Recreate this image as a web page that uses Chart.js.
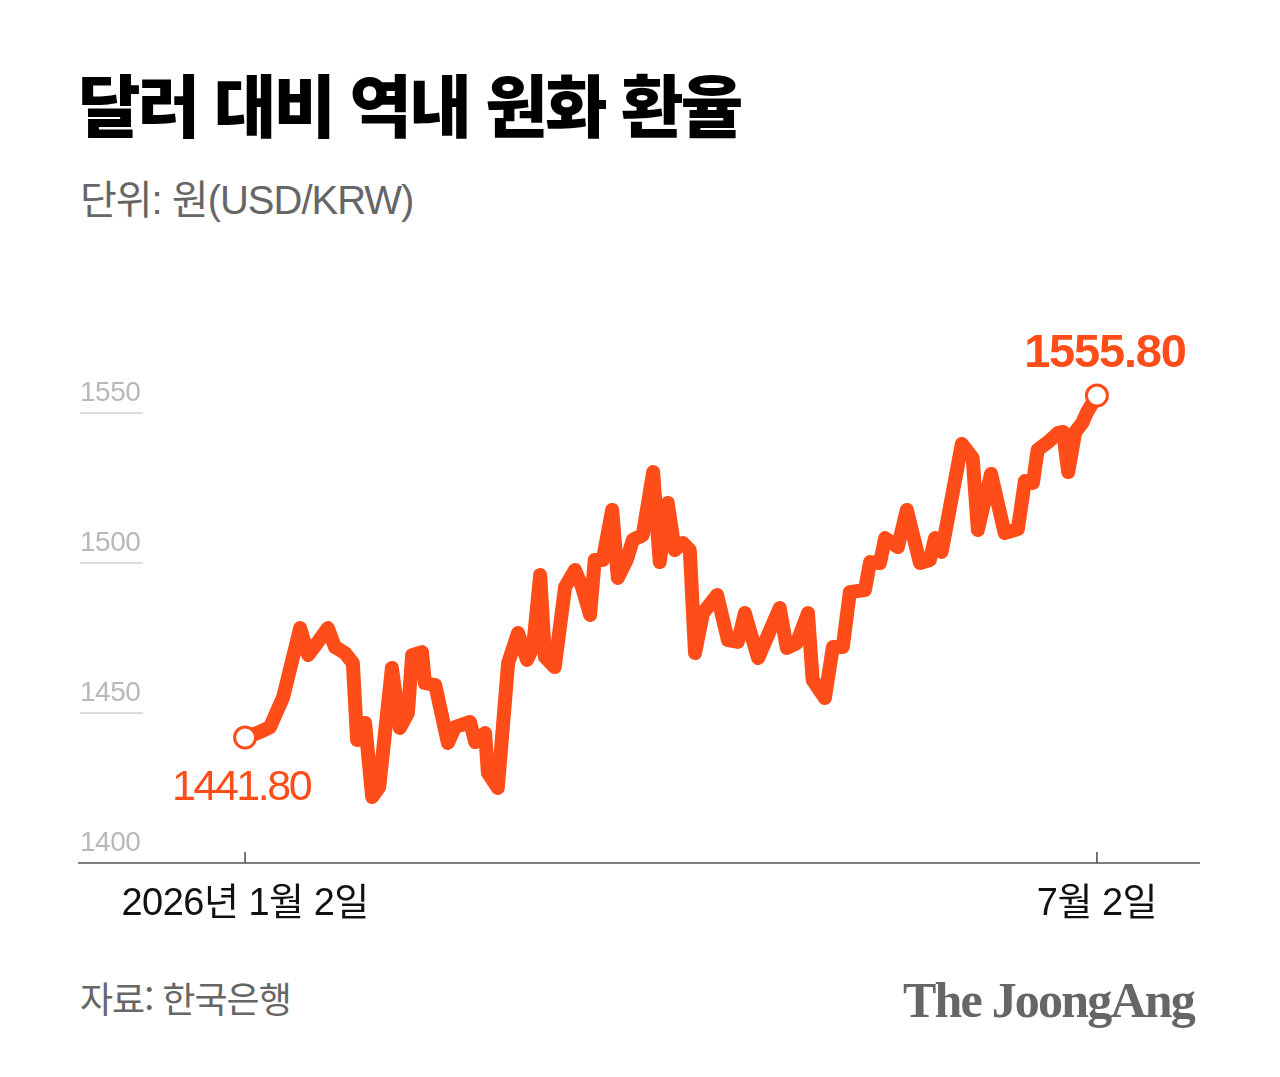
<!DOCTYPE html>
<html lang="ko">
<head>
<meta charset="utf-8">
<script src="https://cdn.jsdelivr.net/npm/chart.js@4/dist/chart.umd.min.js"></script>
<style>
  html, body { margin: 0; padding: 0; background: #fff; }
  body { width: 1280px; height: 1077px; position: relative; overflow: hidden; }
  #title { position: absolute; left: 78px; top: 69px; font-family: "Noto Sans CJK KR"; font-weight: 900; font-size: 68px; letter-spacing: -2.8px; color: #000; line-height: 1; white-space: nowrap; }
  #unit { position: absolute; left: 80px; top: 178px; font-family: "Liberation Sans", "Noto Sans CJK KR"; font-size: 40px; letter-spacing: -1px; color: #666; line-height: 1.1; white-space: nowrap; }
  #source { position: absolute; left: 80px; top: 978px; font-family: "Noto Sans CJK KR"; font-size: 36px; letter-spacing: -1px; color: #666; line-height: 1.1; white-space: nowrap; }
  #logo { position: absolute; left: 903px; top: 973px; font-family: "Liberation Serif"; font-weight: bold; font-size: 50px; letter-spacing: -1.8px; color: #666; line-height: 1.1; white-space: nowrap; }
  canvas { position: absolute; left: 0; top: 0; }
</style>
</head>
<body>
<div id="title">달러 대비 역내 원화 환율</div>
<div id="unit">단위: 원(USD/KRW)</div>
<div id="source">자료: 한국은행</div>
<div id="logo">The JoongAng</div>
<canvas id="c" width="1280" height="1077"></canvas>
<script>
// Days since 2026-01-02 (approximate)
const days = [0, 3.2, 5.3, 8.1, 11.7, 13.4, 15.3, 17.6, 19.1, 21.2, 22.9, 23.8, 25.5, 27, 28.5,
  31.2, 32.9, 34.6, 35.5, 37.6, 38.2, 40.4, 43.1, 44.6, 47.8, 48.9, 51, 51.6, 53.7,
  55.9, 58, 59.9, 61.2, 62.7, 63.7, 65.8, 68, 70.1, 71.6, 73.3, 74.3, 76, 78, 79.2,
  81.1, 82.4, 84.5, 86.7, 88.1, 89.8, 91.3, 93, 94.5, 95.6, 97.3, 100.3, 102.6, 104.7,
  106.2, 109, 113.6, 115.1, 117.2, 119.6, 120.6, 123.2, 124.9, 127, 128.5, 131.7,
  132.8, 134.9, 136, 138.7, 140.6, 143.4, 145.5, 146.6, 148, 152.3, 154.6, 155.7,
  158.5, 161.4, 164.2, 165.7, 167.4, 168.4, 170.6, 172.7, 173.8, 174.9, 176.4, 177.9, 178.9, 181];
// USD/KRW rate (won)
const rates = [1441.8, 1443.7, 1445.3, 1455.3, 1478.3, 1469.3, 1473.3, 1478.3, 1472, 1470, 1466.7, 1441, 1446.7, 1422, 1425.3,
  1465, 1445, 1450, 1469.3, 1470.3, 1460, 1459.3, 1440, 1445.3, 1447, 1440.3, 1443.3, 1430, 1425,
  1466.7, 1476.7, 1467.7, 1472, 1496, 1468.7, 1465.3, 1492, 1497.7, 1492, 1482.7, 1501, 1501, 1517.7, 1495,
  1501, 1507.7, 1509.3, 1530.3, 1500.3, 1520, 1504.3, 1506.7, 1504.3, 1470, 1483.3, 1489.3, 1474.3, 1473.7,
  1483.3, 1468.3, 1485, 1471.7, 1473.3, 1483.3, 1461, 1455, 1472, 1472, 1490.3, 1491,
  1500.3, 1500, 1508.3, 1505.3, 1517.7, 1500, 1501, 1508.3, 1503.7, 1539.7, 1535, 1511,
  1529.7, 1510, 1511.3, 1527.3, 1526.7, 1537.7, 1540.3, 1543.3, 1543.7, 1530.3, 1543.7, 1546.7, 1550.3, 1555.8];
const yTicks = [1400, 1450, 1500, 1550];
const xTickDays = [0, 181];
const xTickLabels = ["2026년 1월 2일", "7월 2일"];
const firstLabel = "1441.80";
const lastLabel = "1555.80";

const ORANGE = "#ff4d1a";
const points = days.map((d, i) => ({ x: d, y: rates[i] }));
const lastIdx = points.length - 1;

const decor = {
  id: "decor",
  beforeDatasetsDraw(chart) {
    const ctx = chart.ctx, xs = chart.scales.x, ys = chart.scales.y, area = chart.chartArea;
    ctx.save();
    // y labels and short gridlines
    ctx.font = '28px "Liberation Sans", Arial, sans-serif';
    ctx.fillStyle = "#b8b8b8";
    ctx.textAlign = "left";
    ctx.textBaseline = "alphabetic";
    ctx.letterSpacing = "-0.5px";
    yTicks.forEach(v => {
      const y = ys.getPixelForValue(v);
      ctx.fillText(String(v), 80, y - 12);
      if (v !== yTicks[0]) {
        ctx.strokeStyle = "#d0d0d0";
        ctx.lineWidth = 1.5;
        ctx.beginPath(); ctx.moveTo(80, y); ctx.lineTo(143, y); ctx.stroke();
      }
    });
    // x axis line
    const yb = ys.getPixelForValue(yTicks[0]);
    ctx.strokeStyle = "#555";
    ctx.lineWidth = 1.6;
    ctx.beginPath(); ctx.moveTo(area.left, yb); ctx.lineTo(area.right, yb); ctx.stroke();
    // x ticks + labels
    ctx.font = '38px "Liberation Sans", "Noto Sans CJK KR", sans-serif';
    ctx.fillStyle = "#111";
    ctx.textAlign = "center";
    ctx.letterSpacing = "-0.5px";
    xTickDays.forEach((d, i) => {
      const x = xs.getPixelForValue(d);
      ctx.beginPath(); ctx.moveTo(x, yb - 11); ctx.lineTo(x, yb); ctx.stroke();
      ctx.fillText(xTickLabels[i], x, yb + 52);
    });
    ctx.restore();
  },
  afterDatasetsDraw(chart) {
    const ctx = chart.ctx, xs = chart.scales.x, ys = chart.scales.y;
    ctx.save();
    ctx.fillStyle = ORANGE;
    ctx.textAlign = "center";
    ctx.textBaseline = "alphabetic";
    ctx.letterSpacing = "-2.5px";
    ctx.font = '43px "Liberation Sans", Arial, sans-serif';
    ctx.fillText(firstLabel, xs.getPixelForValue(days[0]) - 4, ys.getPixelForValue(rates[0]) + 62);
    ctx.letterSpacing = "-1.2px";
    ctx.font = 'bold 47px "Liberation Sans", Arial, sans-serif';
    ctx.fillText(lastLabel, xs.getPixelForValue(days[lastIdx]) + 8, ys.getPixelForValue(rates[lastIdx]) - 29);
    ctx.restore();
  }
};

new Chart(document.getElementById("c"), {
  type: "line",
  data: {
    datasets: [{
      data: points,
      borderColor: ORANGE,
      borderWidth: 14,
      borderJoinStyle: "round",
      borderCapStyle: "round",
      tension: 0,
      pointRadius: c => (c.dataIndex === 0 || c.dataIndex === lastIdx) ? 10.5 : 0,
      pointBackgroundColor: "#fff",
      pointBorderColor: ORANGE,
      pointBorderWidth: 3,
      pointHoverRadius: 0,
      clip: false
    }]
  },
  options: {
    responsive: false,
    animation: false,
    layout: { padding: { left: 78, right: 80, top: 383, bottom: 214 } },
    plugins: { legend: { display: false }, tooltip: { enabled: false } },
    events: [],
    scales: {
      x: { type: "linear", display: false, min: -35.5, max: 202.9 },
      y: { type: "linear", display: false, min: 1400, max: 1560 }
    }
  },
  plugins: [decor]
});
</script>
</body>
</html>
